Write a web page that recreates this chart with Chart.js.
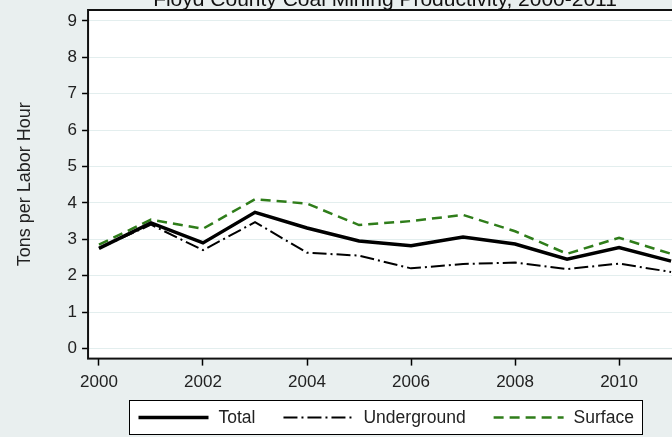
<!DOCTYPE html>
<html>
<head>
<meta charset="utf-8">
<script src="https://cdn.jsdelivr.net/npm/chart.js@4.4.1/dist/chart.umd.min.js"></script>
<style>
  html, body { margin: 0; padding: 0; width: 672px; height: 437px; overflow: hidden; background: #e9efef; }
  #wrap { position: absolute; left: 0; top: -12px; }
</style>
</head>
<body>
<div id="wrap"><canvas id="coalChart" width="690" height="449"></canvas></div>
<script>
const years = [2000, 2001, 2002, 2003, 2004, 2005, 2006, 2007, 2008, 2009, 2010, 2011];
const total = [2.75, 3.45, 2.90, 3.74, 3.31, 2.95, 2.82, 3.06, 2.87, 2.45, 2.77, 2.40];
const underground = [2.75, 3.40, 2.70, 3.47, 2.63, 2.55, 2.20, 2.32, 2.36, 2.18, 2.33, 2.10];
const surface = [2.85, 3.54, 3.29, 4.10, 3.98, 3.39, 3.50, 3.67, 3.22, 2.60, 3.04, 2.60];
const xTicks = [2000, 2002, 2004, 2006, 2008, 2010];
const yTicks = [0, 1, 2, 3, 4, 5, 6, 7, 8, 9];
const chartTitle = 'Floyd County Coal Mining Productivity, 2000-2011';

const FONT = "'Liberation Sans', Arial, sans-serif";
Chart.defaults.font.family = FONT;
Chart.defaults.font.size = 17;
Chart.defaults.color = '#222';

function points(values) {
  return years.map((yr, i) => ({ x: yr, y: values[i] }));
}

// plot region background, frame, title over the plot and the boxed legend underneath
const stataLook = {
  id: 'stataLook',
  beforeDraw(chart) {
    const { ctx, chartArea: a } = chart;
    ctx.save();
    ctx.fillStyle = '#e9efef';
    ctx.fillRect(0, 0, chart.width, chart.height);
    ctx.fillStyle = '#fff';
    ctx.fillRect(a.left, a.top, a.right - a.left, a.bottom - a.top);
    ctx.restore();
  },
  beforeDatasetsDraw(chart) {
    const { ctx, chartArea: a } = chart;
    ctx.save();
    ctx.strokeStyle = '#111';
    ctx.lineWidth = 2;
    ctx.strokeRect(a.left, a.top, a.right - a.left, a.bottom - a.top);
    ctx.restore();
  },
  afterDraw(chart) {
    const { ctx, chartArea: a } = chart;
    const sets = chart.data.datasets;
    const sample = 70, gapText = 10, gapItem = 28, padX = 9, boxH = 34;
    ctx.save();
    // title, centred on the plot region
    ctx.font = '21px ' + FONT;
    ctx.fillStyle = '#111';
    ctx.textAlign = 'center';
    ctx.textBaseline = 'alphabetic';
    ctx.fillText(chartTitle, (a.left + a.right) / 2, a.top - 4);

    ctx.font = '17.5px ' + FONT;
    let w = 0;
    sets.forEach((d, i) => {
      w += sample + gapText + ctx.measureText(d.label).width;
      if (i < sets.length - 1) w += gapItem;
    });
    const boxW = Math.round(w + padX * 2);
    const left = Math.round((a.left + a.right) / 2 - boxW / 2) + 0.5;
    const top = Math.round(a.bottom + 41) + 0.5;
    ctx.fillStyle = '#fff';
    ctx.fillRect(left, top, boxW, boxH);
    ctx.strokeStyle = '#000';
    ctx.lineWidth = 1;
    ctx.strokeRect(left, top, boxW, boxH);
    let x = left + padX;
    const cy = top + boxH / 2;
    sets.forEach(d => {
      ctx.beginPath();
      ctx.setLineDash(d.borderDash || []);
      ctx.lineWidth = d.borderWidth;
      ctx.strokeStyle = d.borderColor;
      ctx.moveTo(x, cy);
      ctx.lineTo(x + sample, cy);
      ctx.stroke();
      ctx.setLineDash([]);
      x += sample + gapText;
      ctx.fillStyle = '#222';
      ctx.textBaseline = 'middle';
      ctx.textAlign = 'left';
      ctx.fillText(d.label, x, cy + 1);
      x += ctx.measureText(d.label).width + gapItem;
    });
    ctx.restore();
  }
};

const ctx = document.getElementById('coalChart').getContext('2d');
const coalChart = new Chart(ctx, {
  type: 'line',
  data: {
    datasets: [{
      label: 'Total',
      data: points(total),
      borderColor: '#000',
      borderWidth: 3.5,
      pointRadius: 0,
      tension: 0
    }, {
      label: 'Underground',
      data: points(underground),
      borderColor: '#000',
      borderWidth: 2,
      borderDash: [14, 4, 2, 4],
      pointRadius: 0,
      tension: 0
    }, {
      label: 'Surface',
      data: points(surface),
      borderColor: '#2f7d1a',
      borderWidth: 2.5,
      borderDash: [10, 6],
      pointRadius: 0,
      tension: 0
    }]
  },
  options: {
    responsive: false,
    animation: false,
    layout: { padding: { left: 0, right: 8, top: 22, bottom: 37 } },
    plugins: {
      legend: { display: false },
      tooltip: { enabled: false },
      title: { display: false }
    },
    scales: {
      x: {
        type: 'linear',
        min: 1999.79,
        max: 2011.21,
        afterBuildTicks: s => { s.ticks = xTicks.map(v => ({ value: v })); },
        grid: { drawOnChartArea: false, tickColor: '#000', tickLength: 7, tickWidth: 1.5 },
        border: { display: false },
        ticks: { padding: 7, maxRotation: 0, autoSkip: false, callback: v => String(v) }
      },
      y: {
        min: -0.28,
        max: 9.3,
        afterBuildTicks: s => { s.ticks = yTicks.map(v => ({ value: v })); },
        grid: { color: '#e3eeee', tickColor: '#000', tickLength: 6, tickWidth: 1.5 },
        border: { display: false },
        ticks: { padding: 5, callback: v => String(v) },
        title: {
          display: true,
          text: 'Tons per Labor Hour',
          font: { size: 18 },
          padding: { top: 14, bottom: 27 }
        }
      }
    }
  },
  plugins: [stataLook]
});
</script>
</body>
</html>
